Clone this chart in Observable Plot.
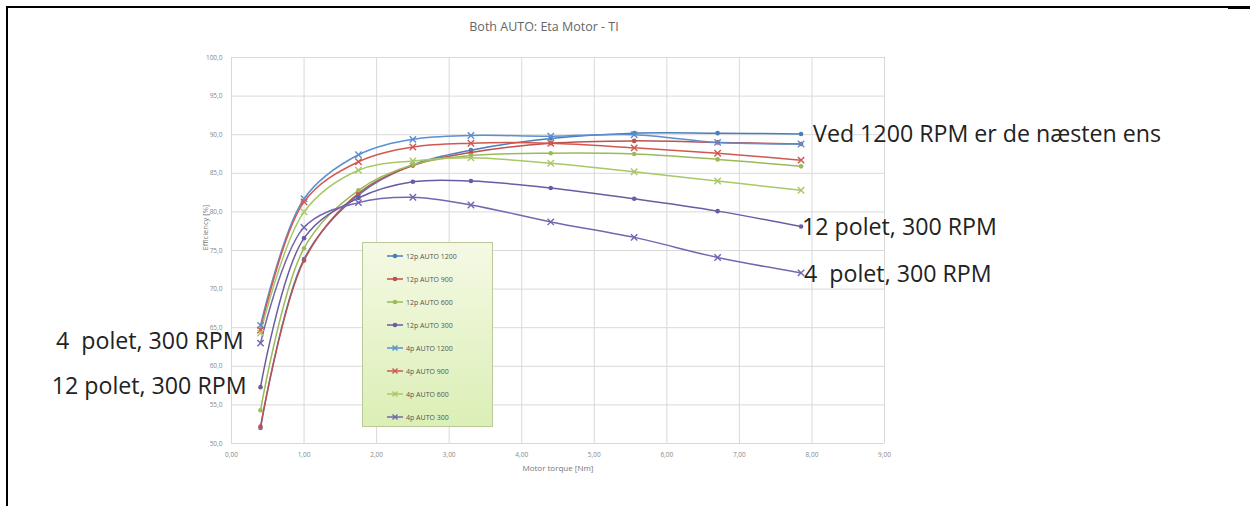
<!DOCTYPE html>
<html><head><meta charset="utf-8">
<script src="https://cdn.jsdelivr.net/npm/d3@7"></script>
<script src="https://cdn.jsdelivr.net/npm/@observablehq/plot@0.6"></script>
<style>
body{margin:0;background:#fff;font-family:"Open Sans",sans-serif;}
#wrap{position:relative;width:1250px;height:506px;overflow:hidden;}
#wrap > svg{position:absolute;left:0;top:0;}
.bl{position:absolute;left:6px;top:6px;width:2px;height:500px;background:#000;}
.bt{position:absolute;left:6px;top:6px;width:1244px;height:1.5px;background:#000;}
.bt2{position:absolute;left:1228px;top:6px;width:22px;height:2.5px;background:#000;}
#legend{position:absolute;left:362px;top:242px;width:131px;height:185px;box-sizing:border-box;
border:1px solid #b9c99a;background:linear-gradient(to bottom,#f5f9e4,#dbefb6);}
.li{position:absolute;left:24px;height:10px;display:flex;align-items:center;font-size:7px;color:#555;white-space:nowrap;}
.li svg{margin-right:2px;}
</style></head>
<body><div id="wrap"><div class="bl"></div><div class="bt"></div><div class="bt2"></div></div>
<script>
const torque = [0.4, 1.0, 1.75, 2.5, 3.3, 4.4, 5.55, 6.7, 7.85];
const seriesNames = ["12p AUTO 1200","12p AUTO 900","12p AUTO 600","12p AUTO 300","4p AUTO 1200","4p AUTO 900","4p AUTO 600","4p AUTO 300"];
const p12_1200 = [52.0, 73.9, 82.2, 86.1, 88.0, 89.5, 90.2, 90.2, 90.1];
const p12_900  = [52.2, 73.7, 82.4, 86.0, 87.7, 88.9, 89.2, 89.0, 88.8];
const p12_600  = [54.3, 75.3, 82.8, 86.1, 87.3, 87.6, 87.5, 86.8, 85.9];
const p12_300  = [57.3, 76.6, 81.8, 83.9, 84.0, 83.1, 81.7, 80.1, 78.1];
const p4_1200  = [65.3, 81.7, 87.4, 89.4, 89.9, 89.8, 90.0, 89.0, 88.8];
const p4_900   = [64.7, 81.3, 86.5, 88.4, 88.9, 88.9, 88.3, 87.6, 86.7];
const p4_600   = [64.3, 80.0, 85.4, 86.6, 87.0, 86.3, 85.2, 84.0, 82.8];
const p4_300   = [63.0, 78.0, 81.2, 81.9, 80.9, 78.7, 76.7, 74.1, 72.1];
const seriesValues = [p12_1200,p12_900,p12_600,p12_300,p4_1200,p4_900,p4_600,p4_300];
const colors = ["#4a7ebb","#c0504d","#9bbb59","#6a5ba3","#5a8fd2","#d0584f","#a8c868","#7466b0"];
const xTicks = [0,1,2,3,4,5,6,7,8,9];
const yTicks = [50,55,60,65,70,75,80,85,90,95,100];
const title = "Both AUTO: Eta Motor - TI";
const xLabel = "Motor torque [Nm]";
const yLabel = "Efficiency [%]";
const noteTop = "Ved 1200 RPM er de næsten ens";
const note12 = "12 polet, 300 RPM";
const note4 = "4  polet, 300 RPM";

const rows = [];
seriesNames.forEach((s,i)=>seriesValues[i].forEach((v,j)=>rows.push({series:s,x:torque[j],y:v,pole:s.startsWith("12p")?12:4})));
const rows12 = rows.filter(d=>d.pole===12), rows4 = rows.filter(d=>d.pole===4);
const last = (s)=>rows.filter(d=>d.series===s).at(-1);
const first = (s)=>rows.filter(d=>d.series===s)[0];
const comma = (v,n)=>v.toFixed(n).replace(".",",");

const annFont = {fontFamily:"Open Sans",fontSize:23.2,fill:"#222"};
const chart = Plot.plot({
  width:1250,height:506,
  marginLeft:231,marginRight:366,marginTop:57,marginBottom:63,
  style:{fontFamily:"Open Sans",background:"transparent",overflow:"visible"},
  x:{domain:[0,9]},
  y:{domain:[50,100]},
  color:{domain:seriesNames,range:colors},
  marks:[
    Plot.gridX(xTicks,{stroke:"#d9d9d9",strokeOpacity:1}),
    Plot.gridY(yTicks,{stroke:"#d9d9d9",strokeOpacity:1}),
    Plot.axisX(xTicks,{tickSize:0,tickPadding:9,tickFormat:d=>comma(d,2),fontSize:6.5,fill:"#888",label:null}),
    Plot.axisY(yTicks,{tickSize:0,tickPadding:9,tickFormat:d=>comma(d,1),fontSize:6.5,fill:"#888",label:null}),
    Plot.line(rows,{x:"x",y:"y",z:"series",stroke:"series",curve:"catmull-rom",strokeWidth:1.5}),
    Plot.dot(rows12,{x:"x",y:"y",fill:"series",r:2.3}),
    Plot.dot(rows4,{x:"x",y:"y",stroke:"series",symbol:"times",r:3,strokeWidth:1.4}),
    Plot.text([title],{frameAnchor:"top",dy:-35,dx:-14,fontSize:12.5,fill:"#666"}),
    Plot.text([xLabel],{frameAnchor:"bottom",dy:27,fontSize:8,fill:"#777"}),
    Plot.text([yLabel],{frameAnchor:"left",dx:-26,rotate:-90,fontSize:7.5,fill:"#777"}),
    Plot.text([last("12p AUTO 1200")],{x:"x",y:"y",text:()=>noteTop,textAnchor:"start",dx:12,dy:1,...annFont}),
    Plot.text([last("12p AUTO 300")],{x:"x",y:"y",text:()=>note12,textAnchor:"start",dx:1,dy:1,...annFont}),
    Plot.text([last("4p AUTO 300")],{x:"x",y:"y",text:()=>note4,textAnchor:"start",dx:3,dy:2,...annFont}),
    Plot.text([first("4p AUTO 300")],{x:"x",y:"y",text:()=>note4,textAnchor:"end",dx:-17,dy:-2,...annFont}),
    Plot.text([first("12p AUTO 300")],{x:"x",y:"y",text:()=>note12,textAnchor:"end",dx:-14,dy:-1,...annFont})
  ]
});
const wrap = document.getElementById("wrap");
wrap.prepend(chart);

// legend
const lg = document.createElement("div"); lg.id="legend";
seriesNames.forEach((s,i)=>{
  const it = document.createElement("div"); it.className="li";
  it.style.top = (8 + i*23) + "px";
  const sw = d3.create("svg").attr("width",17).attr("height",8);
  sw.append("line").attr("x1",0).attr("x2",16).attr("y1",4).attr("y2",4).attr("stroke",colors[i]).attr("stroke-width",1.5);
  if (s.startsWith("12p")) sw.append("circle").attr("cx",8).attr("cy",4).attr("r",2.3).attr("fill",colors[i]);
  else sw.append("path").attr("d","M5.5,1.5L10.5,6.5M10.5,1.5L5.5,6.5").attr("stroke",colors[i]).attr("stroke-width",1.4);
  it.appendChild(sw.node());
  const t = document.createElement("span"); t.textContent = s; it.appendChild(t);
  lg.appendChild(it);
});
wrap.appendChild(lg);
</script></body></html>
